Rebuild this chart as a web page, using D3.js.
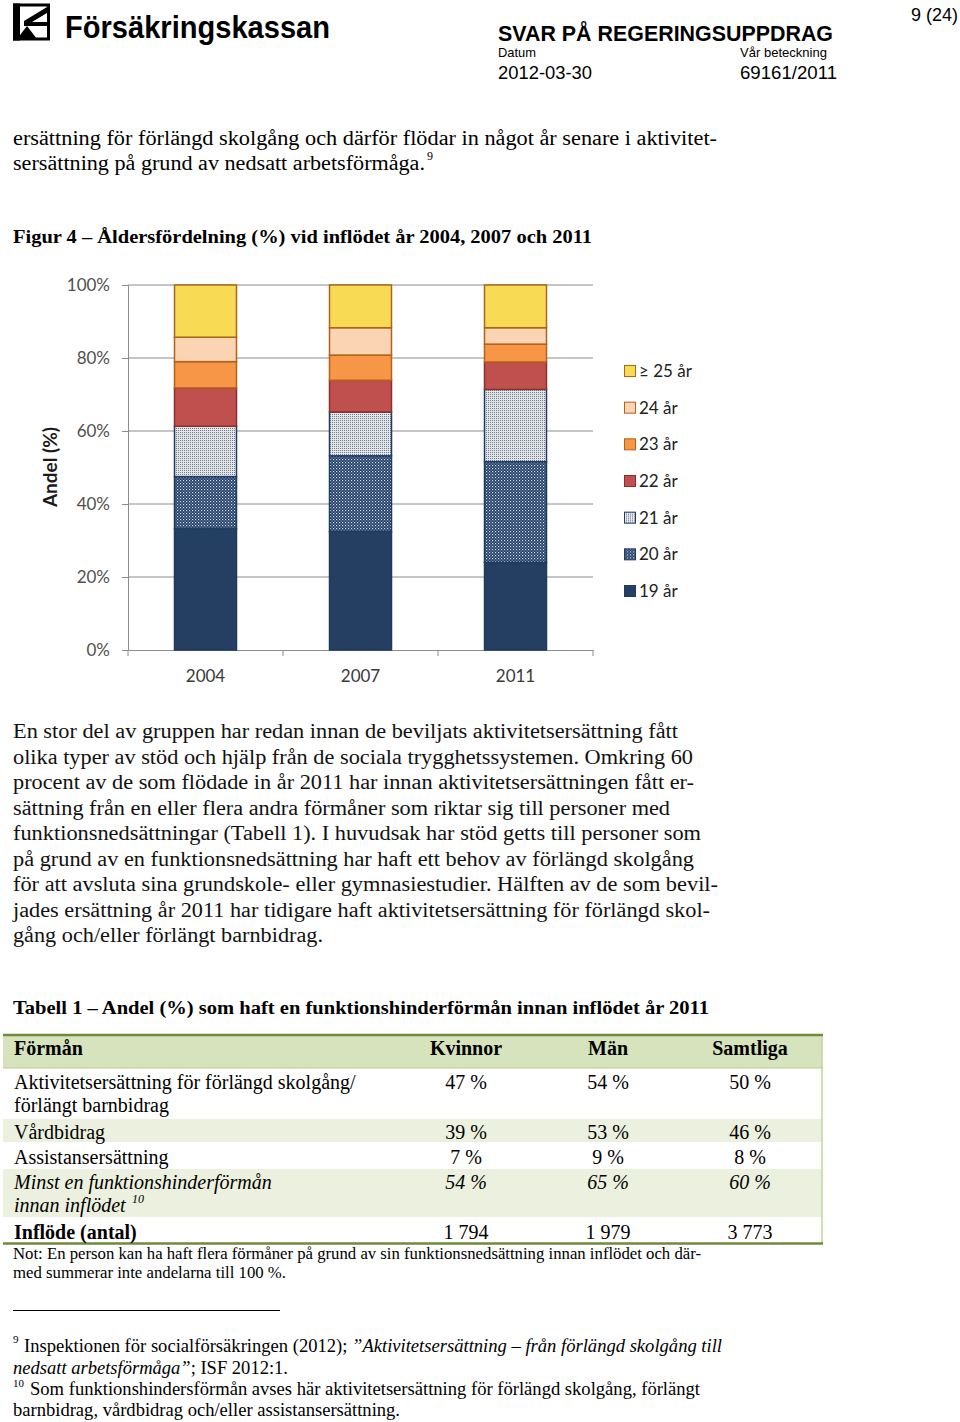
<!DOCTYPE html>
<html><head><meta charset="utf-8">
<script src="https://cdn.jsdelivr.net/npm/d3@7"></script>
<style>body{margin:0;background:#fff}svg{display:block}</style>
</head><body>
<svg id="page" width="960" height="1422"></svg>
<script>
// ---------- data ----------
const years = ["2004", "2007", "2011"];
const ageGroups = ["19 år", "20 år", "21 år", "22 år", "23 år", "24 år", "≥ 25 år"];
const share19 = [33.2, 32.4, 24.0];
const share20 = [14.3, 20.8, 27.6];
const share21 = [13.8, 12.0, 19.8];
const share22 = [10.5, 8.7, 7.5];
const share23 = [7.2, 6.9, 4.9];
const share24 = [6.7, 7.5, 4.5];
const share25 = [14.3, 11.7, 11.7];
const yTicks = [0, 20, 40, 60, 80, 100];

const tableHeaders = ["Förmån", "Kvinnor", "Män", "Samtliga"];
const tableLabels = [["Aktivitetsersättning för förlängd skolgång/", "förlängt barnbidrag"], ["Vårdbidrag"], ["Assistansersättning"], ["Minst en funktionshinderförmån", "innan inflödet"], ["Inflöde (antal)"]];
const kvinnor = ["47 %", "39 %", "7 %", "54 %", "1 794"];
const man = ["54 %", "53 %", "9 %", "65 %", "1 979"];
const samtliga = ["50 %", "46 %", "8 %", "60 %", "3 773"];

const series = [share19, share20, share21, share22, share23, share24, share25];
const table = years.map((y, i) => {
  const o = {year: y};
  ageGroups.forEach((g, k) => o[g] = series[k][i]);
  return o;
});

const svg = d3.select("#page");
const serif = "'Liberation Serif','Times New Roman',serif";
const sans = "'Liberation Sans',Arial,sans-serif";
const chartFont = "Lato,'Open Sans',sans-serif";

function txt(x, y, s, opts = {}) {
  const t = svg.append("text").attr("x", x).attr("y", y)
    .attr("font-family", opts.family || serif)
    .attr("font-size", opts.size || 20)
    .attr("font-weight", opts.weight || "normal")
    .attr("font-style", opts.style || "normal")
    .attr("fill", opts.fill || "#000")
    .attr("text-anchor", opts.anchor || "start")
    .text(s);
  if (opts.len) t.attr("textLength", opts.len).attr("lengthAdjust", "spacingAndGlyphs");
  return t;
}

// ---------- header ----------
const logo = svg.append("g");
logo.append("rect").attr("x", 14.5).attr("y", 5).attr("width", 34).attr("height", 34).attr("fill", "none").attr("stroke", "#000").attr("stroke-width", 3);
logo.append("rect").attr("x", 13).attr("y", 3.5).attr("width", 7).attr("height", 37).attr("fill", "#000");
logo.append("path").attr("d", "M47,7 L47,13 L32,22 L47,22 L47,26 L24,26 L24,21 Z").attr("fill", "#000");
logo.append("path").attr("d", "M17,39 L37,39 L27,26 Z").attr("fill", "#000");
txt(65, 38, "Försäkringskassan", {family: sans, size: 31, weight: "bold", len: 265});
txt(498, 41, "SVAR PÅ REGERINGSUPPDRAG", {family: sans, size: 22, weight: "bold", len: 335});
txt(498, 57, "Datum", {family: sans, size: 13, len: 38});
txt(740, 57, "Vår beteckning", {family: sans, size: 13, len: 87});
txt(498, 79, "2012-03-30", {family: sans, size: 18, len: 94});
txt(740, 79, "69161/2011", {family: sans, size: 18, len: 97});
txt(911, 21, "9 (24)", {family: sans, size: 18, len: 47});

// ---------- intro text ----------
txt(13, 145, "ersättning för förlängd skolgång och därför flödar in något år senare i aktivitet-", {len: 704});
txt(13, 170, "sersättning på grund av nedsatt arbetsförmåga.", {len: 412});
txt(427, 160, "9", {size: 12});
txt(13, 243, "Figur 4 – Åldersfördelning (%) vid inflödet år 2004, 2007 och 2011", {size: 19, weight: "bold", len: 579});

// ---------- chart ----------
const x = d3.scaleBand().domain(years).range([128, 593]).paddingInner(0.6).paddingOuter(0.3);
const y = d3.scaleLinear().domain([0, 100]).range([650, 285]);

const defs = svg.append("defs");
const p20 = defs.append("pattern").attr("id", "p20").attr("patternUnits", "userSpaceOnUse").attr("width", 3).attr("height", 3);
p20.append("rect").attr("width", 3).attr("height", 3).attr("fill", "#1f3b63");
p20.append("rect").attr("x", 0).attr("y", 0).attr("width", 1.2).attr("height", 1.2).attr("fill", "#d5dde8");
p20.append("rect").attr("x", 1.5).attr("y", 1.5).attr("width", 1.2).attr("height", 1.2).attr("fill", "#8fa3bc");
const p21 = defs.append("pattern").attr("id", "p21").attr("patternUnits", "userSpaceOnUse").attr("width", 2).attr("height", 2);
p21.append("rect").attr("width", 2).attr("height", 2).attr("fill", "#e4e6e8");
p21.append("rect").attr("width", 1).attr("height", 1).attr("fill", "#6b7c91");

const fills = ["#243f62", "url(#p20)", "url(#p21)", "#c0504d", "#f79646", "#fbd4b4", "#f9da55"];
const strokes = ["#1f3b63", "#1f3b63", "#1f3b63", "#8c2f2c", "#b3621a", "#b3621a", "#a8671a"];

// gridlines
svg.append("g").selectAll("line").data(yTicks.filter(d => d > 0)).join("line")
  .attr("x1", 128).attr("x2", 593).attr("y1", d => y(d)).attr("y2", d => y(d))
  .attr("stroke", "#8c8c8c").attr("stroke-width", 1);

// y axis
const yAxis = svg.append("g").attr("transform", "translate(128,0)")
  .call(d3.axisLeft(y).tickValues(yTicks).tickFormat(d => d + "%").tickSize(6).tickPadding(12));
yAxis.select(".domain").attr("stroke", "#8c8c8c");
yAxis.selectAll(".tick line").attr("stroke", "#8c8c8c");
yAxis.selectAll("text").attr("font-family", chartFont).attr("font-size", 17).attr("fill", "#505050");

// x axis
const xAxis = svg.append("g").attr("transform", "translate(0,650)")
  .call(d3.axisBottom(x).tickSize(0).tickPadding(20));
xAxis.select(".domain").attr("stroke", "#8c8c8c");
xAxis.selectAll("text").attr("font-family", chartFont).attr("font-size", 17).attr("fill", "#3a3a3a");
const bounds = [128].concat(years.map(d => x(d) - x.step() * x.paddingInner() / 2 + x.step()));
svg.append("g").selectAll("line").data(bounds).join("line")
  .attr("x1", d => d).attr("x2", d => d).attr("y1", 650).attr("y2", 656)
  .attr("stroke", "#8c8c8c");

// bars
const stacked = d3.stack().keys(ageGroups)(table);
svg.append("g").selectAll("g").data(stacked).join("g")
  .attr("fill", (d, i) => fills[i]).attr("stroke", (d, i) => strokes[i]).attr("stroke-width", 1.5)
  .selectAll("rect").data(d => d).join("rect")
  .attr("x", d => x(d.data.year)).attr("width", x.bandwidth())
  .attr("y", d => y(d[1])).attr("height", d => y(d[0]) - y(d[1]));

// y title
txt(0, 0, "Andel (%)", {family: chartFont, size: 19, weight: "bold", anchor: "middle", fill: "#1a1a1a"})
  .attr("transform", "translate(57,467) rotate(-90)");

// legend
const legY = d3.scalePoint().domain(ageGroups.slice().reverse()).range([371, 591]);
const leg = svg.append("g").selectAll("g").data(ageGroups).join("g")
  .attr("transform", g => `translate(624,${legY(g)})`);
leg.append("rect").attr("x", 0.5).attr("y", -5.5).attr("width", 11).attr("height", 11)
  .attr("fill", (d, i) => fills[i]).attr("stroke", (d, i) => strokes[i]).attr("stroke-width", 1);
leg.append("text").attr("x", 15).attr("y", 6).text(d => d)
  .attr("font-family", chartFont).attr("font-size", 17).attr("fill", "#222");

// ---------- paragraph ----------
const para = [
  ["En stor del av gruppen har redan innan de beviljats aktivitetsersättning fått", 665],
  ["olika typer av stöd och hjälp från de sociala trygghetssystemen. Omkring 60", 680],
  ["procent av de som flödade in år 2011 har innan aktivitetsersättningen fått er-", 681],
  ["sättning från en eller flera andra förmåner som riktar sig till personer med", 657],
  ["funktionsnedsättningar (Tabell 1). I huvudsak har stöd getts till personer som", 688],
  ["på grund av en funktionsnedsättning har haft ett behov av förlängd skolgång", 681],
  ["för att avsluta sina grundskole- eller gymnasiestudier. Hälften av de som bevil-", 705],
  ["jades ersättning år 2011 har tidigare haft aktivitetsersättning för förlängd skol-", 697],
  ["gång och/eller förlängt barnbidrag.", 310]
];
para.forEach((p, i) => txt(13, 738 + i * 25.5, p[0], {size: 20.5, len: p[1], fill: "#111"}));

// ---------- table ----------
txt(13, 1014, "Tabell 1 – Andel (%) som haft en funktionshinderförmån innan inflödet år 2011", {size: 19, weight: "bold", len: 696});
const rowTops = [1068, 1118, 1143, 1168, 1218];
const rowBots = [1118, 1143, 1168, 1218, 1243];
svg.append("rect").attr("x", 3).attr("y", 1036).attr("width", 819).attr("height", 32).attr("fill", "#d6e3bc");
rowTops.forEach((t, i) => {
  if (i === 1 || i === 3) svg.append("rect").attr("x", 3).attr("y", t + 1).attr("width", 819).attr("height", rowBots[i] - t - 2).attr("fill", "#ebf1de");
});
svg.append("line").attr("x1", 822).attr("x2", 822).attr("y1", 1036).attr("y2", 1243).attr("stroke", "#c2d69b").attr("stroke-width", 1.5);
svg.append("line").attr("x1", 3).attr("x2", 823).attr("y1", 1068).attr("y2", 1068).attr("stroke", "#b6c98f").attr("stroke-width", 1);
svg.append("line").attr("x1", 3).attr("x2", 823).attr("y1", 1035).attr("y2", 1035).attr("stroke", "#6f8a3a").attr("stroke-width", 2.5);
svg.append("line").attr("x1", 3).attr("x2", 823).attr("y1", 1243.5).attr("y2", 1243.5).attr("stroke", "#6f8a3a").attr("stroke-width", 2.5);

const colX = [14, 466, 608, 750];
tableHeaders.forEach((h, i) => txt(colX[i], 1055, h, {size: 20, weight: "bold", anchor: i ? "middle" : "start"}));
tableLabels.forEach((lines, r) => {
  const italic = r === 3, bold = r === 4;
  lines.forEach((l, k) => txt(14, rowTops[r] + 21 + k * 23, l, {size: 20, style: italic ? "italic" : "normal", weight: bold ? "bold" : "normal"}));
  [kvinnor, man, samtliga].forEach((col, c) =>
    txt(colX[c + 1], rowTops[r] + 21, col[r], {size: 20, anchor: "middle", style: italic ? "italic" : "normal"}));
});
txt(132, 1203, "10", {size: 12, style: "italic"});

// ---------- notes ----------
txt(13, 1259, "Not: En person kan ha haft flera förmåner på grund av sin funktionsnedsättning innan inflödet och där-", {size: 16.5, len: 688});
txt(13, 1278, "med summerar inte andelarna till 100 %.", {size: 16.5, len: 273});
svg.append("line").attr("x1", 13).attr("x2", 280).attr("y1", 1310.5).attr("y2", 1310.5).attr("stroke", "#000").attr("stroke-width", 1);

txt(13, 1343, "9", {size: 11});
const f1 = svg.append("text").attr("x", 24).attr("y", 1352).attr("font-family", serif).attr("font-size", 18)
  .attr("textLength", 698).attr("lengthAdjust", "spacingAndGlyphs");
f1.append("tspan").text("Inspektionen för socialförsäkringen (2012); ");
f1.append("tspan").attr("font-style", "italic").text("”Aktivitetsersättning – från förlängd skolgång till");
const f2 = svg.append("text").attr("x", 13).attr("y", 1374).attr("font-family", serif).attr("font-size", 18)
  .attr("textLength", 275).attr("lengthAdjust", "spacingAndGlyphs");
f2.append("tspan").attr("font-style", "italic").text("nedsatt arbetsförmåga”");
f2.append("tspan").text("; ISF 2012:1.");
txt(13, 1387, "10", {size: 11});
txt(30, 1395, "Som funktionshindersförmån avses här aktivitetsersättning för förlängd skolgång, förlängt", {size: 18, len: 670});
txt(13, 1416, "barnbidrag, vårdbidrag och/eller assistansersättning.", {size: 18, len: 387});
</script>
</body></html>
